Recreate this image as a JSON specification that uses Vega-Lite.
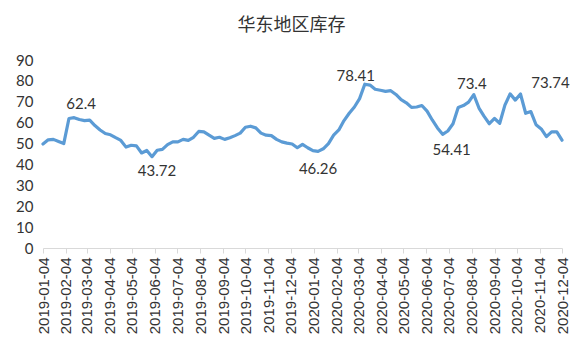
{
  "$schema": "https://vega.github.io/schema/vega-lite/v6.json",
  "width": 519,
  "height": 188,
  "autosize": {"type": "none"},
  "padding": {"left": 43, "top": 60, "right": 21, "bottom": 104},
  "background": "white",
  "title": {"text": "华东地区库存", "font": "Noto Sans CJK SC", "fontSize": 18, "fontWeight": "normal", "color": "#333333", "anchor": "middle", "frame": "group", "dx": -11, "offset": 18},
  "config": {"view": {"stroke": null}, "axis": {"grid": false}},
  "data": {"values": [
    {"date": "2019-01-04", "value": 49.8},
    {"date": "2019-01-11", "value": 51.8},
    {"date": "2019-01-18", "value": 52},
    {"date": "2019-01-25", "value": 51},
    {"date": "2019-02-01", "value": 50},
    {"date": "2019-02-08", "value": 62},
    {"date": "2019-02-15", "value": 62.4, "label": "62.4"},
    {"date": "2019-02-22", "value": 61.5},
    {"date": "2019-03-01", "value": 61},
    {"date": "2019-03-08", "value": 61.2},
    {"date": "2019-03-15", "value": 58.6},
    {"date": "2019-03-22", "value": 56.5},
    {"date": "2019-03-29", "value": 54.8},
    {"date": "2019-04-05", "value": 54.2},
    {"date": "2019-04-12", "value": 52.8},
    {"date": "2019-04-19", "value": 51.5},
    {"date": "2019-04-26", "value": 48.3},
    {"date": "2019-05-03", "value": 49.2},
    {"date": "2019-05-10", "value": 48.9},
    {"date": "2019-05-17", "value": 45.5},
    {"date": "2019-05-24", "value": 46.7},
    {"date": "2019-05-31", "value": 43.72, "label": "43.72"},
    {"date": "2019-06-07", "value": 46.8},
    {"date": "2019-06-14", "value": 47.2},
    {"date": "2019-06-21", "value": 49.5},
    {"date": "2019-06-28", "value": 50.8},
    {"date": "2019-07-05", "value": 50.8},
    {"date": "2019-07-12", "value": 52},
    {"date": "2019-07-19", "value": 51.5},
    {"date": "2019-07-26", "value": 53},
    {"date": "2019-08-02", "value": 55.8},
    {"date": "2019-08-09", "value": 55.6},
    {"date": "2019-08-16", "value": 54},
    {"date": "2019-08-23", "value": 52.5},
    {"date": "2019-08-30", "value": 53},
    {"date": "2019-09-06", "value": 52},
    {"date": "2019-09-13", "value": 52.8},
    {"date": "2019-09-20", "value": 53.8},
    {"date": "2019-09-27", "value": 55},
    {"date": "2019-10-04", "value": 57.8},
    {"date": "2019-10-11", "value": 58.3},
    {"date": "2019-10-18", "value": 57.5},
    {"date": "2019-10-25", "value": 55},
    {"date": "2019-11-01", "value": 54},
    {"date": "2019-11-08", "value": 53.8},
    {"date": "2019-11-15", "value": 52},
    {"date": "2019-11-22", "value": 50.8},
    {"date": "2019-11-29", "value": 50.2},
    {"date": "2019-12-06", "value": 49.8},
    {"date": "2019-12-13", "value": 48},
    {"date": "2019-12-20", "value": 49.6},
    {"date": "2019-12-27", "value": 48},
    {"date": "2020-01-03", "value": 46.6},
    {"date": "2020-01-10", "value": 46.26, "label": "46.26"},
    {"date": "2020-01-17", "value": 47.5},
    {"date": "2020-01-24", "value": 50},
    {"date": "2020-01-31", "value": 54},
    {"date": "2020-02-07", "value": 56.5},
    {"date": "2020-02-14", "value": 61},
    {"date": "2020-02-21", "value": 64.5},
    {"date": "2020-02-28", "value": 67.5},
    {"date": "2020-03-06", "value": 71.5},
    {"date": "2020-03-13", "value": 78.41, "label": "78.41"},
    {"date": "2020-03-20", "value": 78},
    {"date": "2020-03-27", "value": 76},
    {"date": "2020-04-03", "value": 75.5},
    {"date": "2020-04-10", "value": 75},
    {"date": "2020-04-17", "value": 75.3},
    {"date": "2020-04-24", "value": 73.5},
    {"date": "2020-05-01", "value": 71},
    {"date": "2020-05-08", "value": 69.5},
    {"date": "2020-05-15", "value": 67.3},
    {"date": "2020-05-22", "value": 67.5},
    {"date": "2020-05-29", "value": 68.2},
    {"date": "2020-06-05", "value": 65.5},
    {"date": "2020-06-12", "value": 61.3},
    {"date": "2020-06-19", "value": 57.5},
    {"date": "2020-06-26", "value": 54.41, "label": "54.41"},
    {"date": "2020-07-03", "value": 56},
    {"date": "2020-07-10", "value": 59.5},
    {"date": "2020-07-17", "value": 67.3},
    {"date": "2020-07-24", "value": 68.2},
    {"date": "2020-07-31", "value": 69.8},
    {"date": "2020-08-07", "value": 73.4, "label": "73.4"},
    {"date": "2020-08-14", "value": 67},
    {"date": "2020-08-21", "value": 63},
    {"date": "2020-08-28", "value": 59.5},
    {"date": "2020-09-04", "value": 62},
    {"date": "2020-09-11", "value": 59.7},
    {"date": "2020-09-18", "value": 68.4},
    {"date": "2020-09-25", "value": 73.8},
    {"date": "2020-10-02", "value": 70.8},
    {"date": "2020-10-09", "value": 73.74, "label": "73.74"},
    {"date": "2020-10-16", "value": 64.5},
    {"date": "2020-10-23", "value": 65.3},
    {"date": "2020-10-30", "value": 59},
    {"date": "2020-11-06", "value": 57},
    {"date": "2020-11-13", "value": 53.3},
    {"date": "2020-11-20", "value": 55.6},
    {"date": "2020-11-27", "value": 55.6},
    {"date": "2020-12-04", "value": 51.6}
  ]},
  "encoding": {
    "x": {
      "field": "date", "type": "temporal",
      "scale": {"type": "utc", "domain": [{"year": 2019, "month": 1, "date": 4, "utc": true}, {"year": 2020, "month": 12, "date": 4, "utc": true}]},
      "axis": {
        "title": null,
        "values": [
          {"year": 2019, "month": 1, "date": 4, "utc": true},
          {"year": 2019, "month": 2, "date": 4, "utc": true},
          {"year": 2019, "month": 3, "date": 4, "utc": true},
          {"year": 2019, "month": 4, "date": 4, "utc": true},
          {"year": 2019, "month": 5, "date": 4, "utc": true},
          {"year": 2019, "month": 6, "date": 4, "utc": true},
          {"year": 2019, "month": 7, "date": 4, "utc": true},
          {"year": 2019, "month": 8, "date": 4, "utc": true},
          {"year": 2019, "month": 9, "date": 4, "utc": true},
          {"year": 2019, "month": 10, "date": 4, "utc": true},
          {"year": 2019, "month": 11, "date": 4, "utc": true},
          {"year": 2019, "month": 12, "date": 4, "utc": true},
          {"year": 2020, "month": 1, "date": 4, "utc": true},
          {"year": 2020, "month": 2, "date": 4, "utc": true},
          {"year": 2020, "month": 3, "date": 4, "utc": true},
          {"year": 2020, "month": 4, "date": 4, "utc": true},
          {"year": 2020, "month": 5, "date": 4, "utc": true},
          {"year": 2020, "month": 6, "date": 4, "utc": true},
          {"year": 2020, "month": 7, "date": 4, "utc": true},
          {"year": 2020, "month": 8, "date": 4, "utc": true},
          {"year": 2020, "month": 9, "date": 4, "utc": true},
          {"year": 2020, "month": 10, "date": 4, "utc": true},
          {"year": 2020, "month": 11, "date": 4, "utc": true},
          {"year": 2020, "month": 12, "date": 4, "utc": true}
        ],
        "format": "%Y-%m-%d",
        "labelAngle": -90,
        "labelFont": "Liberation Sans",
        "labelFontSize": 15,
        "labelColor": "#333333",
        "labelPadding": 4,
        "labelOverlap": false,
        "labelFlush": false,
        "domainColor": "#d9d9d9",
        "tickColor": "#d9d9d9",
        "tickSize": 5
      }
    },
    "y": {
      "field": "value", "type": "quantitative",
      "scale": {"domain": [0, 90], "nice": false, "zero": true},
      "axis": {
        "title": null,
        "values": [0, 10, 20, 30, 40, 50, 60, 70, 80, 90],
        "domain": false,
        "ticks": false,
        "labelPadding": 10,
        "labelFont": "Lato",
        "labelFontSize": 15,
        "labelColor": "#333333"
      }
    }
  },
  "layer": [
    {"mark": {"type": "line", "color": "#5b9bd5", "strokeWidth": 3.2, "strokeJoin": "round", "strokeCap": "round"}},
    {"transform": [{"filter": "datum.label === '62.4'"}], "mark": {"type": "text", "font": "Lato", "fontSize": 15, "color": "#333333", "baseline": "middle", "dx": 7, "dy": -14}, "encoding": {"text": {"field": "label"}}},
    {"transform": [{"filter": "datum.label === '43.72'"}], "mark": {"type": "text", "font": "Lato", "fontSize": 15, "color": "#333333", "baseline": "middle", "dx": 5, "dy": 14}, "encoding": {"text": {"field": "label"}}},
    {"transform": [{"filter": "datum.label === '46.26'"}], "mark": {"type": "text", "font": "Lato", "fontSize": 15, "color": "#333333", "baseline": "middle", "dx": 0, "dy": 18}, "encoding": {"text": {"field": "label"}}},
    {"transform": [{"filter": "datum.label === '78.41'"}], "mark": {"type": "text", "font": "Lato", "fontSize": 15, "color": "#333333", "baseline": "middle", "dx": -9, "dy": -8}, "encoding": {"text": {"field": "label"}}},
    {"transform": [{"filter": "datum.label === '54.41'"}], "mark": {"type": "text", "font": "Lato", "fontSize": 15, "color": "#333333", "baseline": "middle", "dx": 9, "dy": 16}, "encoding": {"text": {"field": "label"}}},
    {"transform": [{"filter": "datum.label === '73.4'"}], "mark": {"type": "text", "font": "Lato", "fontSize": 15, "color": "#333333", "baseline": "middle", "dx": -2, "dy": -11}, "encoding": {"text": {"field": "label"}}},
    {"transform": [{"filter": "datum.label === '73.74'"}], "mark": {"type": "text", "font": "Lato", "fontSize": 15, "color": "#333333", "baseline": "middle", "dx": 30, "dy": -11}, "encoding": {"text": {"field": "label"}}}
  ]
}
